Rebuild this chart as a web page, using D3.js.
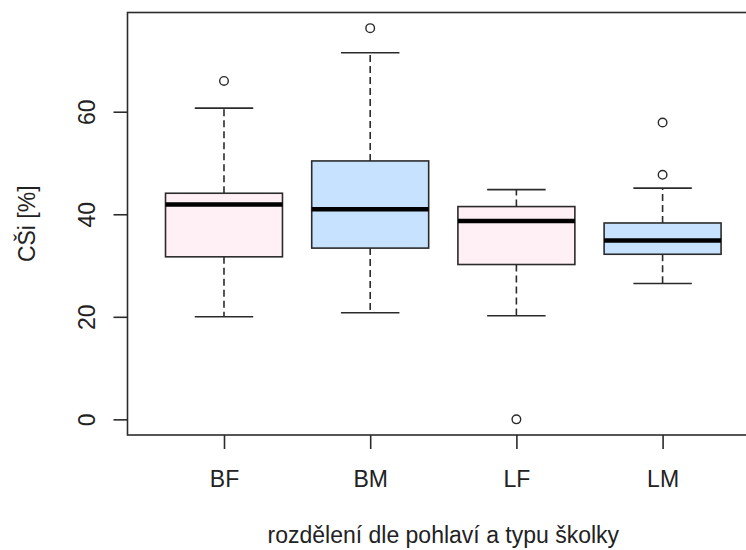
<!DOCTYPE html>
<html>
<head>
<meta charset="utf-8">
<script src="https://cdn.jsdelivr.net/npm/d3@7"></script>
<style>
  html, body { margin: 0; padding: 0; background: #fff; }
  svg { display: block; }
  text { font-family: "Liberation Sans", Arial, sans-serif; fill: #222; }
</style>
</head>
<body>
<svg id="chart" width="746" height="550"></svg>
<script>
// Groups (school type × sex)
const categories = ["BF", "BM", "LF", "LM"];
// Five-number summaries per group
const whiskerLow  = [20.0, 20.8, 20.2, 26.5];
const boxLow      = [31.7, 33.4, 30.2, 32.2];
const medians     = [41.9, 41.0, 38.7, 34.9];
const boxHigh     = [44.1, 50.4, 41.5, 38.3];
const whiskerHigh = [60.7, 71.5, 44.8, 45.1];
// Points beyond the whiskers
const outliers    = [[66.0], [76.3], [0.0], [47.7, 57.9]];
const fills       = ["#FFF0F5", "#C6E2FF", "#FFF0F5", "#C6E2FF"];
const yTicks      = [0, 20, 40, 60];
const yLabel      = "CŠi [%]";
const xLabel      = "rozdělení dle pohlaví a typu školky";

const groups = categories.map((c, i) => ({
  name: c, lo: whiskerLow[i], q1: boxLow[i], med: medians[i],
  q3: boxHigh[i], hi: whiskerHigh[i], out: outliers[i], fill: fills[i]
}));

const svg = d3.select("#chart");
const fontSize = 23;
const ink = "#2b2b2b";

// Plot region (x extends past the right edge of the canvas)
const plotLeft = 127.5, plotTop = 12.5, plotBottom = 435;
const step = 146.2;
const plotRight = plotLeft + step * (categories.length + 0.32);

const x = d3.scalePoint()
  .domain(categories)
  .range([plotLeft + 0.66 * step, plotLeft + (categories.length - 0.34) * step]);

const allVals = groups.flatMap(g => [g.lo, g.hi, ...g.out]);
const [vmin, vmax] = d3.extent(allVals);
const pad = (vmax - vmin) * 0.04;
const y = d3.scaleLinear().domain([vmin - pad, vmax + pad]).range([plotBottom, plotTop]);

const boxW = step * 0.8;
const capW = boxW * 0.5;

const g = svg.selectAll("g.box").data(groups).join("g").attr("class", "box");

// dashed whiskers
g.append("line")
  .attr("x1", d => x(d.name)).attr("x2", d => x(d.name))
  .attr("y1", d => y(d.q3)).attr("y2", d => y(d.hi))
  .attr("stroke", ink).attr("stroke-width", 1.6).attr("stroke-dasharray", "7,4");
g.append("line")
  .attr("x1", d => x(d.name)).attr("x2", d => x(d.name))
  .attr("y1", d => y(d.q1)).attr("y2", d => y(d.lo))
  .attr("stroke", ink).attr("stroke-width", 1.6).attr("stroke-dasharray", "7,4");
// whisker caps
[d => d.hi, d => d.lo].forEach(acc => {
  g.append("line")
    .attr("x1", d => x(d.name) - capW / 2).attr("x2", d => x(d.name) + capW / 2)
    .attr("y1", d => y(acc(d))).attr("y2", d => y(acc(d)))
    .attr("stroke", ink).attr("stroke-width", 1.6);
});
// boxes
g.append("rect")
  .attr("x", d => x(d.name) - boxW / 2).attr("width", boxW)
  .attr("y", d => y(d.q3)).attr("height", d => y(d.q1) - y(d.q3))
  .attr("fill", d => d.fill).attr("stroke", ink).attr("stroke-width", 1.6);
// medians
g.append("line")
  .attr("x1", d => x(d.name) - boxW / 2).attr("x2", d => x(d.name) + boxW / 2)
  .attr("y1", d => y(d.med)).attr("y2", d => y(d.med))
  .attr("stroke", "#000").attr("stroke-width", 4.5);
// outliers
g.selectAll("circle").data(d => d.out.map(v => ({ name: d.name, v }))).join("circle")
  .attr("cx", d => x(d.name)).attr("cy", d => y(d.v)).attr("r", 4.3)
  .attr("fill", "none").attr("stroke", ink).attr("stroke-width", 1.4);

// frame
svg.append("rect")
  .attr("x", plotLeft).attr("y", plotTop)
  .attr("width", plotRight - plotLeft).attr("height", plotBottom - plotTop)
  .attr("fill", "none").attr("stroke", ink).attr("stroke-width", 1.6);

// y axis
const yAxis = svg.append("g")
  .attr("transform", `translate(${plotLeft},0)`)
  .call(d3.axisLeft(y).tickValues(yTicks).tickSize(14).tickFormat(d3.format("d")));
yAxis.select(".domain").remove();
yAxis.selectAll(".tick line").attr("stroke", ink).attr("stroke-width", 1.6);
yAxis.selectAll(".tick text")
  .attr("transform", "rotate(-90)")
  .attr("x", 0).attr("y", -33).attr("dy", null)
  .attr("text-anchor", "middle")
  .style("font-size", fontSize + "px")
  .style("font-family", "'Liberation Sans', Arial, sans-serif")
  .attr("fill", "#222");

// x axis
const xAxis = svg.append("g")
  .attr("transform", `translate(0,${plotBottom})`)
  .call(d3.axisBottom(x).tickSize(14));
xAxis.select(".domain").remove();
xAxis.selectAll(".tick line").attr("stroke", ink).attr("stroke-width", 1.6);
xAxis.selectAll(".tick text")
  .attr("y", 52).attr("dy", null)
  .style("font-size", fontSize + "px")
  .style("font-family", "'Liberation Sans', Arial, sans-serif")
  .attr("fill", "#222");

// axis titles
svg.append("text")
  .attr("x", (plotLeft + plotRight) / 2).attr("y", 543)
  .attr("text-anchor", "middle")
  .style("font-size", fontSize + "px")
  .text(xLabel);
svg.append("text")
  .attr("transform", `translate(35,${(plotTop + plotBottom) / 2}) rotate(-90)`)
  .attr("text-anchor", "middle")
  .style("font-size", fontSize + "px")
  .text(yLabel);
</script>
</body>
</html>
